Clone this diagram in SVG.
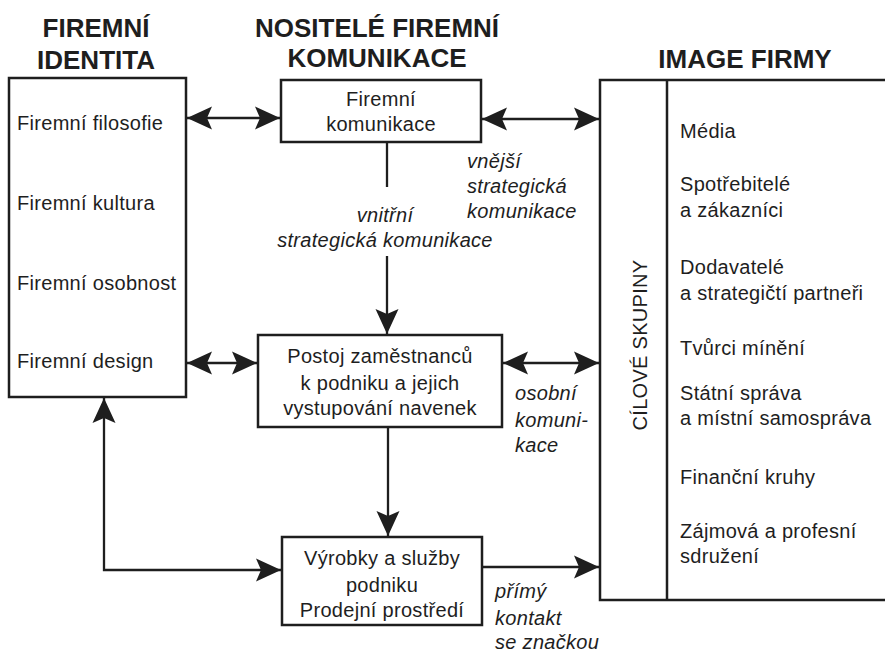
<svg xmlns="http://www.w3.org/2000/svg" width="885" height="652" viewBox="0 0 885 652">
<style>
.t{font-family:"Liberation Sans",Arial,sans-serif;font-size:20px;fill:#1e1e1e;letter-spacing:0.3px}
.h{font-family:"Liberation Sans",Arial,sans-serif;font-size:26px;font-weight:bold;fill:#1e1e1e;text-anchor:middle}
.i{font-style:italic}
.m{text-anchor:middle}
.box{fill:none;stroke:#1e1e1e;stroke-width:2.5}
.c{fill:none;stroke:#1e1e1e;stroke-width:2.3}
</style>
<defs>
<marker id="ah" markerUnits="userSpaceOnUse" markerWidth="30" markerHeight="28" viewBox="-28 -14 30 28" refX="0" refY="0" orient="auto-start-reverse">
<path d="M0,0 L-25,-11.5 L-20,0 L-25,11.5 Z" fill="#1e1e1e"/>
</marker>
</defs>
<rect width="885" height="652" fill="#fff"/>

<g id="titles">
<text class="h" x="96" y="37">FIREMNÍ</text>
<text class="h" x="96" y="69">IDENTITA</text>
<text class="h" x="377" y="37">NOSITELÉ FIREMNÍ</text>
<text class="h" x="377" y="67">KOMUNIKACE</text>
<text class="h" x="745" y="68">IMAGE FIRMY</text>
</g>

<g id="firemni-identita">
<rect class="box" x="9" y="78" width="177" height="319"/>
<text class="t" x="17" y="130">Firemní filosofie</text>
<text class="t" x="17" y="210">Firemní kultura</text>
<text class="t" x="17" y="290">Firemní osobnost</text>
<text class="t" x="17" y="368">Firemní design</text>
</g>

<g id="firemni-komunikace">
<rect class="box" x="281" y="80" width="200" height="62"/>
<text class="t m" x="381" y="106">Firemní</text>
<text class="t m" x="381" y="131">komunikace</text>
</g>

<g id="postoj">
<rect class="box" x="258" y="335" width="244" height="92"/>
<text class="t m" x="380" y="363">Postoj zaměstnanců</text>
<text class="t m" x="380" y="390">k podniku a jejich</text>
<text class="t m" x="380" y="415">vystupování navenek</text>
</g>

<g id="vyrobky">
<rect class="box" x="282" y="537" width="200" height="88"/>
<text class="t m" x="382" y="565">Výrobky a služby</text>
<text class="t m" x="382" y="592">podniku</text>
<text class="t m" x="382" y="617">Prodejní prostředí</text>
</g>

<g id="image-firmy">
<rect class="box" x="600" y="80" width="330" height="520"/>
<line class="box" x1="667" y1="80" x2="667" y2="600"/>
<text class="t m" transform="translate(647,345) rotate(-90)">CÍLOVÉ SKUPINY</text>
<text class="t" x="680" y="138">Média</text>
<text class="t" x="680" y="191">Spotřebitelé</text>
<text class="t" x="680" y="217">a zákazníci</text>
<text class="t" x="680" y="274">Dodavatelé</text>
<text class="t" x="680" y="300">a strategičtí partneři</text>
<text class="t" x="680" y="355">Tvůrci mínění</text>
<text class="t" x="680" y="400">Státní správa</text>
<text class="t" x="680" y="425">a místní samospráva</text>
<text class="t" x="680" y="484">Finanční kruhy</text>
<text class="t" x="680" y="538">Zájmová a profesní</text>
<text class="t" x="680" y="563">sdružení</text>
</g>

<g id="connectors">
<line class="c" x1="187" y1="118" x2="280" y2="118" marker-start="url(#ah)" marker-end="url(#ah)"/>
<line class="c" x1="482" y1="119" x2="599" y2="119" marker-start="url(#ah)" marker-end="url(#ah)"/>
<line class="c" x1="387" y1="143" x2="387" y2="187"/>
<line class="c" x1="387" y1="256" x2="387" y2="334" marker-end="url(#ah)"/>
<line class="c" x1="187" y1="363" x2="257" y2="363" marker-start="url(#ah)" marker-end="url(#ah)"/>
<line class="c" x1="503" y1="363" x2="599" y2="363" marker-start="url(#ah)" marker-end="url(#ah)"/>
<line class="c" x1="388" y1="428" x2="388" y2="536" marker-end="url(#ah)"/>
<line class="c" x1="483" y1="567" x2="599" y2="567" marker-end="url(#ah)"/>
<polyline class="c" points="104,398 104,570 281,570" marker-start="url(#ah)" marker-end="url(#ah)"/>
</g>

<g id="labels">
<text class="t i" x="467" y="168">vnější</text>
<text class="t i" x="467" y="193">strategická</text>
<text class="t i" x="467" y="218">komunikace</text>
<text class="t i m" x="385" y="222">vnitřní</text>
<text class="t i m" x="385" y="247">strategická komunikace</text>
<text class="t i" x="515" y="400">osobní</text>
<text class="t i" x="515" y="427">komuni-</text>
<text class="t i" x="515" y="452">kace</text>
<text class="t i" x="495" y="598">přímý</text>
<text class="t i" x="495" y="625">kontakt</text>
<text class="t i" x="495" y="649">se značkou</text>
</g>
</svg>
